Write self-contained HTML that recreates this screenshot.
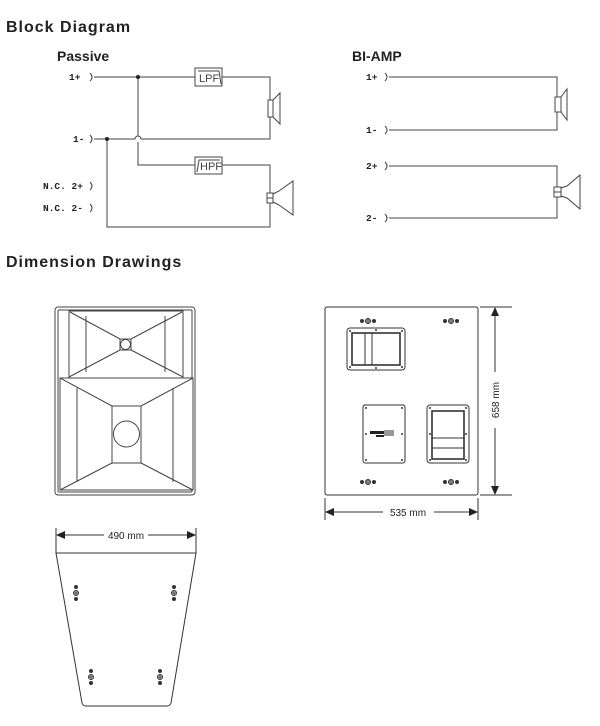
<!DOCTYPE html>
<html><head><meta charset="utf-8"><style>
html,body{margin:0;padding:0;background:#fff;}
svg{display:block;}
text{font-family:"Liberation Sans",sans-serif;fill:#222;}
.h{font-weight:bold;font-size:16px;letter-spacing:1px;}
.s{font-weight:bold;font-size:14px;}
.l{font-family:"Liberation Mono",monospace;font-size:9.5px;font-weight:bold;}
.f{font-size:11px;fill:#444;}
</style></head><body>
<svg width="600" height="726" viewBox="0 0 600 726" xmlns="http://www.w3.org/2000/svg">
<text x="6" y="32" class="h">Block Diagram</text>
<text x="57" y="61" class="s">Passive</text>
<text x="352" y="61" class="s">BI-AMP</text>
<text x="6" y="267" class="h">Dimension Drawings</text>

<text x="69" y="80" class="l">1+</text>
<text x="73" y="142" class="l">1-</text>
<text x="43" y="189" class="l">N.C. 2+</text>
<text x="43" y="211" class="l">N.C. 2-</text>
<text x="366" y="80" class="l">1+</text>
<text x="366" y="133" class="l">1-</text>
<text x="366" y="169" class="l">2+</text>
<text x="366" y="221" class="l">2-</text>
<text x="199" y="82" class="f">LPF</text>
<text x="200" y="170" class="f">HPF</text>
<g stroke="#444" stroke-width="1" fill="none">
<path d="M90,73 q4,4 0,8 M90,135 q4,4 0,8 M90,182 q4,4 0,8 M90,204 q4,4 0,8"/>
<path d="M94,77 H195 M222,77 H270 V100 M270,117 V139 H141 a3,3 0 0 0 -6,0 H94"/>
<path d="M138,77 V136 M138,142 V165 H195 M222,165 H270 V193 M270,203 V227 H107 V139"/>
<rect x="195" y="68" width="27" height="18"/>
<path d="M198,71 H219 L221,84"/>
<rect x="195" y="157" width="27" height="17"/>
<path d="M197,172 L199,160 H220"/>
<rect x="268" y="100" width="5" height="17"/>
<path d="M273,100 L280,93 V124 L273,117"/>
<rect x="267" y="193" width="6" height="10"/>
<path d="M267,198 H273 M273,194 L279,191 L293,181 V215 L279,205 L273,202"/>
</g>
<circle cx="138" cy="77" r="2" fill="#222"/>
<circle cx="107" cy="139" r="2" fill="#222"/>

<g stroke="#444" stroke-width="1" fill="none">
<path d="M385,73 q4,4 0,8 M385,126 q4,4 0,8 M385,162 q4,4 0,8 M385,214 q4,4 0,8"/>
<path d="M389,77 H557 V97 M557,112 V130 H389"/>
<path d="M389,166 H557 V187 M557,197 V218 H389"/>
<rect x="555" y="97" width="6" height="15"/>
<path d="M561,97 L567,89 V120 L561,112"/>
<rect x="554" y="187" width="7" height="10"/>
<path d="M554,192 H561 M561,188 L567,186 L580,175 V209 L567,198 L561,196"/>
</g>

<g stroke="#444" stroke-width="1" fill="none">
<rect x="55" y="307" width="140" height="188" rx="3"/>
<rect x="58" y="310" width="134" height="182" rx="1"/>
<rect x="69" y="311" width="114" height="67"/>
<path d="M86,316 V372 M165,316 V372"/>
<rect x="120" y="339" width="11" height="11"/>
<circle cx="125.5" cy="344.5" r="5"/>
<path d="M70,312 L120,339 M182,312 L131,339 M69,377 L120,350 M183,377 L131,350"/>
<rect x="60" y="378" width="133" height="112" fill="#fff"/>
<path d="M77,388 V482 M173,388 V482"/>
<rect x="112" y="406" width="29" height="57"/>
<circle cx="126.5" cy="434" r="13"/>
<path d="M60,378 L112,406 M193,378 L141,406 M60,490 L112,463 M193,490 L141,463"/>
</g>

<g stroke="#333" stroke-width="1" fill="none">
<rect x="325" y="307" width="153" height="188" rx="2"/>
<path d="M480,307 H512 M480,495 H512 M325,498 V520 M478,498 V520"/>
<path d="M495,312 V372 M495,428 V490 M330,512 H383 M434,512 H473"/>
<rect x="347" y="328" width="58" height="42" rx="3"/>
<rect x="352" y="333" width="48" height="32" stroke-width="1.6"/>
<path d="M365,333 V365 M372,333 V365"/>
<rect x="363" y="405" width="42" height="58" rx="2"/>
<rect x="427" y="405" width="42" height="58" rx="3"/>
<rect x="432" y="411" width="32" height="48" stroke-width="1.6"/>
<path d="M432,438 H464 M432,448 H464"/>
</g>
<g fill="#222">
<path d="M495,307 l-4,9 h8z M495,495 l-4,-9 h8z M325,512 l9,-4 v8z M478,512 l-9,-4 v8z"/>
<rect x="370" y="431" width="14" height="3"/><rect x="376" y="435" width="8" height="2"/>
<rect x="384" y="430" width="10" height="6" fill="#999"/>
</g>
<text x="408" y="516" style="font-size:10px;" text-anchor="middle">535 mm</text>
<text transform="translate(499,400) rotate(-90)" style="font-size:10px;" text-anchor="middle">658 mm</text>
<g fill="#333">
<circle cx="350" cy="331" r="1"/><circle cx="402" cy="331" r="1"/><circle cx="350" cy="367" r="1"/><circle cx="402" cy="367" r="1"/><circle cx="376" cy="330" r="1"/><circle cx="376" cy="368" r="1"/>
<circle cx="366" cy="408" r="1"/><circle cx="402" cy="408" r="1"/><circle cx="366" cy="460" r="1"/><circle cx="402" cy="460" r="1"/><circle cx="366" cy="434" r="1"/><circle cx="402" cy="434" r="1"/>
<circle cx="430" cy="408" r="1"/><circle cx="466" cy="408" r="1"/><circle cx="430" cy="460" r="1"/><circle cx="466" cy="460" r="1"/><circle cx="430" cy="434" r="1"/><circle cx="466" cy="434" r="1"/>
</g>
<g fill="none" stroke="#333">
<g transform="translate(368,321)"><circle r="2.5"/><circle r="1.2"/><circle cx="-6" r="1.5" fill="#333"/><circle cx="6" r="1.5" fill="#333"/></g>
<g transform="translate(451,321)"><circle r="2.5"/><circle r="1.2"/><circle cx="-6" r="1.5" fill="#333"/><circle cx="6" r="1.5" fill="#333"/></g>
<g transform="translate(368,482)"><circle r="2.5"/><circle r="1.2"/><circle cx="-6" r="1.5" fill="#333"/><circle cx="6" r="1.5" fill="#333"/></g>
<g transform="translate(451,482)"><circle r="2.5"/><circle r="1.2"/><circle cx="-6" r="1.5" fill="#333"/><circle cx="6" r="1.5" fill="#333"/></g>
</g>

<g stroke="#333" stroke-width="1" fill="none">
<path d="M56,528 V553 M196,528 V553 M61,535 H104 M148,535 H191"/>
<path d="M56,553 H196 L171,703 Q170,706 167,706 H86 Q83,706 82,703 Z"/>
</g>
<path d="M56,535 l9,-4 v8z M196,535 l-9,-4 v8z" fill="#222"/>
<text x="126" y="539" style="font-size:10px;" text-anchor="middle">490 mm</text>
<g fill="none" stroke="#333">
<g transform="translate(76,593)"><circle r="2.5"/><circle r="1.1"/><circle cy="-6" r="1.5" fill="#333"/><circle cy="6" r="1.5" fill="#333"/></g>
<g transform="translate(174,593)"><circle r="2.5"/><circle r="1.1"/><circle cy="-6" r="1.5" fill="#333"/><circle cy="6" r="1.5" fill="#333"/></g>
<g transform="translate(91,677)"><circle r="2.5"/><circle r="1.1"/><circle cy="-6" r="1.5" fill="#333"/><circle cy="6" r="1.5" fill="#333"/></g>
<g transform="translate(160,677)"><circle r="2.5"/><circle r="1.1"/><circle cy="-6" r="1.5" fill="#333"/><circle cy="6" r="1.5" fill="#333"/></g>
</g>
</svg>
</body></html>
